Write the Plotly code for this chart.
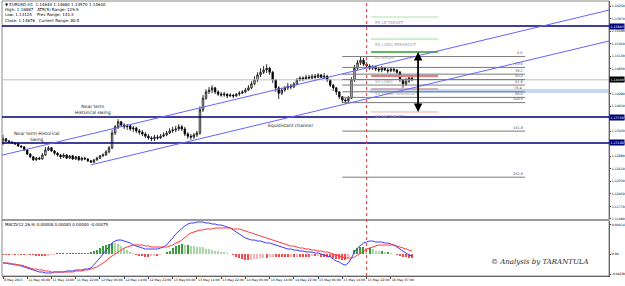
import plotly.graph_objects as go

# ---------------- data ----------------
first_open = 1.1319
closes = [1.1328,1.1323,1.1321,1.1319,1.1317,1.1312,1.1310,1.1303,1.1294,1.1288,
          1.1281,1.1285,1.1283,1.1292,1.1303,1.1308,1.1301,1.1296,1.1292,1.1288,
          1.1292,1.1285,1.1290,1.1283,1.1288,1.1281,1.1285,1.1283,1.1279,1.1276,
          1.1281,1.1285,1.1290,1.1292,1.1299,1.1308,1.1341,1.1355,1.1366,1.1359,
          1.1355,1.1357,1.1350,1.1352,1.1346,1.1343,1.1339,1.1334,1.1330,1.1328,
          1.1332,1.1330,1.1334,1.1337,1.1341,1.1346,1.1348,1.1350,1.1355,1.1350,
          1.1339,1.1334,1.1332,1.1337,1.1341,1.1393,1.1419,1.1433,1.1437,1.1442,
          1.1433,1.1428,1.1426,1.1428,1.1424,1.1426,1.1424,1.1428,1.1430,1.1433,
          1.1437,1.1442,1.1451,1.1460,1.1471,1.1477,1.1482,1.1486,1.1477,1.1460,
          1.1442,1.1430,1.1437,1.1442,1.1446,1.1444,1.1451,1.1460,1.1464,1.1462,
          1.1466,1.1464,1.1468,1.1466,1.1471,1.1466,1.1468,1.1460,1.1448,1.1442,
          1.1433,1.1422,1.1415,1.1413,1.1419,1.1460,1.1486,1.1498,1.1504,1.1495,
          1.1491,1.1486,1.1489,1.1484,1.1482,1.1486,1.1482,1.1480,1.1484,1.1482,
          1.1477,1.1460,1.1451,1.1457,1.1464,1.1460]
highs = [1.1337,1.1330,1.1326,1.1323,1.1321,1.1319,1.1314,1.1312,1.1305,1.1296,
         1.1290,1.1288,1.1288,1.1296,1.1310,1.1312,1.1310,1.1303,1.1299,1.1294,
         1.1296,1.1294,1.1292,1.1292,1.1290,1.1290,1.1288,1.1288,1.1285,1.1281,
         1.1283,1.1288,1.1292,1.1296,1.1303,1.1312,1.1348,1.1359,1.1372,1.1368,
         1.1363,1.1361,1.1359,1.1357,1.1355,1.1350,1.1348,1.1343,1.1339,1.1334,
         1.1337,1.1337,1.1339,1.1343,1.1346,1.1352,1.1355,1.1357,1.1361,1.1359,
         1.1355,1.1343,1.1339,1.1341,1.1346,1.1401,1.1426,1.1439,1.1444,1.1448,
         1.1444,1.1437,1.1433,1.1433,1.1430,1.1430,1.1428,1.1430,1.1435,1.1437,
         1.1442,1.1448,1.1457,1.1468,1.1477,1.1486,1.1491,1.1495,1.1489,1.1480,
         1.1462,1.1446,1.1442,1.1446,1.1453,1.1451,1.1455,1.1464,1.1468,1.1468,
         1.1471,1.1471,1.1473,1.1473,1.1475,1.1473,1.1475,1.1471,1.1462,1.1451,
         1.1444,1.1435,1.1424,1.1419,1.1424,1.1466,1.1493,1.1504,1.1513,1.1509,
         1.1500,1.1495,1.1493,1.1491,1.1489,1.1491,1.1489,1.1486,1.1489,1.1486,
         1.1484,1.1480,1.1462,1.1464,1.1468,1.1468]
lows = [1.1314,1.1321,1.1319,1.1317,1.1314,1.1310,1.1308,1.1301,1.1292,1.1285,
        1.1279,1.1279,1.1281,1.1281,1.1290,1.1301,1.1299,1.1292,1.1288,1.1283,
        1.1285,1.1283,1.1283,1.1281,1.1281,1.1279,1.1279,1.1281,1.1276,1.1274,
        1.1274,1.1279,1.1283,1.1288,1.1290,1.1296,1.1305,1.1337,1.1350,1.1355,
        1.1350,1.1348,1.1346,1.1343,1.1341,1.1337,1.1334,1.1330,1.1326,1.1323,
        1.1323,1.1326,1.1328,1.1332,1.1334,1.1339,1.1341,1.1343,1.1346,1.1346,
        1.1334,1.1328,1.1326,1.1328,1.1332,1.1337,1.1388,1.1415,1.1428,1.1430,
        1.1428,1.1424,1.1422,1.1422,1.1419,1.1422,1.1419,1.1422,1.1424,1.1428,
        1.1430,1.1435,1.1439,1.1448,1.1455,1.1466,1.1473,1.1475,1.1471,1.1453,
        1.1433,1.1417,1.1426,1.1433,1.1437,1.1439,1.1442,1.1448,1.1457,1.1457,
        1.1460,1.1462,1.1462,1.1462,1.1464,1.1464,1.1462,1.1455,1.1444,1.1435,
        1.1426,1.1417,1.1408,1.1406,1.1410,1.1417,1.1455,1.1482,1.1493,1.1491,
        1.1486,1.1482,1.1482,1.1480,1.1477,1.1477,1.1480,1.1475,1.1477,1.1477,
        1.1473,1.1455,1.1442,1.1446,1.1453,1.1457]

# MACD values in points (1e-5)
macd_main_pts = [-126,-126,-140,-140,-154,-154,-168,-182,-196,-210,
                 -224,-238,-252,-252,-266,-266,-266,-252,-252,-252,
                 -252,-238,-238,-238,-224,-224,-224,-210,-210,-196,
                 -154,-112,-56,0,56,112,154,182,196,196,
                 182,168,154,126,112,98,84,70,70,70,
                 70,70,84,98,126,168,224,280,322,364,
                 392,420,434,434,448,448,448,434,434,420,
                 420,406,406,392,378,364,336,308,280,252,
                 224,210,196,196,182,182,168,154,154,140,
                 126,112,98,84,70,70,56,56,42,42,
                 28,28,28,14,14,0,-14,-28,-42,-70,
                 -98,-112,-140,-154,-126,-56,28,84,126,154,
                 168,182,182,168,168,168,154,154,140,126,
                 98,70,42,14,-14,-28]
macd_signal_pts = [-126,-126,-126,-140,-140,-154,-154,-168,-182,-196,
                   -210,-210,-224,-224,-238,-238,-252,-252,-252,-252,
                   -252,-252,-252,-252,-238,-238,-238,-224,-224,-210,
                   -196,-182,-154,-126,-98,-56,-28,0,28,56,
                   84,98,112,126,126,126,126,112,112,98,
                   98,98,98,98,98,112,126,154,168,196,
                   238,266,294,308,322,336,336,350,350,350,
                   364,364,364,364,364,364,350,350,350,336,
                   322,308,294,280,266,252,238,224,210,196,
                   182,168,154,140,126,112,112,98,84,84,
                   70,70,56,56,42,42,28,28,14,0,
                   -14,-28,-42,-56,-56,-56,-42,-14,14,42,
                   70,84,98,112,126,126,126,126,126,126,
                   112,98,84,70,56,42]
macd_hist_pts = [-6,-8,-10,-6,-10,-8,-12,-14,-12,-14,
                 -14,-20,-24,-24,-26,-24,-14,-4,2,4,
                 4,10,12,12,12,12,12,12,14,16,
                 36,60,84,106,128,142,152,150,138,116,
                 82,58,34,4,-12,-24,-34,-36,-36,-26,
                 -24,-24,-14,0,24,48,82,106,128,140,
                 130,130,118,106,104,94,92,72,70,58,
                 48,36,34,24,12,0,-14,-36,-58,-70,
                 -82,-82,-80,-72,-70,-60,-58,-58,-48,-46,
                 -46,-46,-46,-46,-46,-38,-44,-36,-36,-36,
                 -36,-36,-26,-34,-26,-36,-36,-46,-48,-60,
                 -70,-72,-82,-84,-60,0,58,82,94,96,
                 82,82,70,48,36,36,24,24,12,0,
                 -12,-24,-36,-48,-58,-60]

time_tick_bars = [0, 8, 16, 24, 32, 40, 48, 56, 64, 72, 80, 88, 96, 104, 112, 120, 128]
time_tick_labels = ["8 May 2015", "11 May 06:00", "11 May 14:00", "11 May 22:00", "12 May 06:00",
                    "12 May 14:00", "12 May 22:00", "13 May 06:00", "13 May 14:00", "13 May 22:00",
                    "14 May 06:00", "14 May 14:00", "14 May 22:00", "15 May 06:00", "15 May 14:00",
                    "15 May 22:00", "18 May 07:00"]
price_ticks = [1.16250, 1.15970, 1.15690, 1.15410, 1.15130, 1.14850, 1.14570, 1.14290, 1.14010,
               1.13730, 1.13450, 1.13170, 1.12890, 1.12610, 1.12330, 1.12050, 1.11770, 1.11490]
macd_ticks = [0.00414, 0.0, -0.0028]
macd_tick_labels = ["0.00414", "0.00", "-0.00280"]

swing_levels = [1.15803, 1.13769, 1.13188]
pivot_names = ["R5 LB TARGET", "R4 LONG BREAKOUT", "R3 SHORT", "S3 LONG", "S4 SHORT BREAKOUT", "S5 SB TARGET"]
pivot_values = [1.16004, 1.15512, 1.15222, 1.14685, 1.14395, 1.13881]
pivot_colors = ["#a8e4a8", "#98e098", "#2e9e2e", "#f07878", "#c898a8", "#f4a8a8"]
pivot_widths = [1, 1, 1.6, 2, 1.6, 1]
pivot_start_bar, pivot_end_bar = 121.5, 143.6
zone_top, zone_bottom, zone_start_bar = 1.14395, 1.14306, 121

fib_high, fib_low = 1.1512, 1.1409
fib_levels = [0.0, 23.6, 38.2, 50.0, 61.8, 76.4, 88.6, 100.0, 161.8, 261.8]
fib_start_bar, fib_end_bar = 112, 172.3

channel_anchor1 = (29, 1.1270)
channel_anchor2 = (113, 1.1406)
channel_width = 0.0069

arrow_bar = 137
marker_bar = 120

X_MIN, X_MAX = -0.33, 200.0
Y_MIN, Y_MAX = 1.11489, 1.16362
M_MIN, M_MAX = -0.00308, 0.00462

# ---------------- figure ----------------
bars = list(range(len(closes)))
opens = [first_open] + closes[:-1]
macd_main = [v * 1e-5 for v in macd_main_pts]
macd_signal = [v * 1e-5 for v in macd_signal_pts]
macd_hist = [v * 1e-5 for v in macd_hist_pts]

fig = go.Figure()
fig.add_trace(go.Candlestick(
    x=bars, open=opens, high=highs, low=lows, close=closes,
    increasing=dict(line=dict(color="black", width=0.8), fillcolor="white"),
    decreasing=dict(line=dict(color="black", width=0.8), fillcolor="black"),
    whiskerwidth=0, xaxis="x", yaxis="y", showlegend=False, hoverinfo="skip"))

hist_colors = []
for k, v in enumerate(macd_hist_pts):
    prev = macd_hist_pts[k - 1] if k > 0 else v
    if v >= 0:
        hist_colors.append("#3c9c3c" if v >= prev else "#a6d8a6")
    else:
        hist_colors.append("#f04a4a" if v <= prev else "#f8b4b4")
fig.add_trace(go.Bar(x=bars, y=macd_hist, marker=dict(color=hist_colors, line=dict(width=0)),
                     width=0.4, xaxis="x", yaxis="y2", showlegend=False, hoverinfo="skip"))
fig.add_trace(go.Scatter(x=bars, y=macd_main, mode="lines", line=dict(color="#3a3aff", width=1),
                         xaxis="x", yaxis="y2", showlegend=False, hoverinfo="skip"))
fig.add_trace(go.Scatter(x=bars, y=macd_signal, mode="lines", line=dict(color="#ff3a3a", width=1),
                         xaxis="x", yaxis="y2", showlegend=False, hoverinfo="skip"))

shapes = []
shapes.append(dict(type="rect", xref="paper", yref="paper", x0=0, x1=1, y0=0.2, y1=0.2073,
                   fillcolor="#9a9a9a", line=dict(width=0), layer="above"))
shapes.append(dict(type="rect", xref="paper", yref="paper", x0=0, x1=1, y0=0, y1=1,
                   line=dict(color="#8a8a8a", width=1)))
shapes.append(dict(type="rect", xref="x", yref="y", x0=zone_start_bar, x1=X_MAX, y0=zone_bottom, y1=zone_top,
                   fillcolor="#c6d8f2", line=dict(width=0), layer="below"))
shapes.append(dict(type="line", xref="x", yref="y", x0=X_MIN, x1=X_MAX, y0=closes[-1], y1=closes[-1],
                   line=dict(color="#b8c0cc", width=1)))
fib_prices = [fib_high - r / 100.0 * (fib_high - fib_low) for r in fib_levels]
for p in fib_prices:
    shapes.append(dict(type="line", xref="x", yref="y", x0=fib_start_bar, x1=fib_end_bar, y0=p, y1=p,
                       line=dict(color="#7a7a7a", width=1)))
for v, c, w in zip(pivot_values, pivot_colors, pivot_widths):
    shapes.append(dict(type="line", xref="x", yref="y", x0=pivot_start_bar, x1=pivot_end_bar, y0=v, y1=v,
                       line=dict(color=c, width=w)))
for v in swing_levels:
    shapes.append(dict(type="line", xref="x", yref="y", x0=X_MIN, x1=X_MAX, y0=v, y1=v,
                       line=dict(color="#00007a", width=1.5)))
(i1, p1), (i2, p2) = channel_anchor1, channel_anchor2
slope = (p2 - p1) / (i2 - i1)
shapes.append(dict(type="line", xref="x", yref="y", x0=i1, y0=p1, x1=X_MAX, y1=p1 + slope * (X_MAX - i1),
                   line=dict(color="#6464ff", width=1)))
shapes.append(dict(type="line", xref="x", yref="y", x0=X_MIN, y0=p1 + slope * (X_MIN - i1) + channel_width,
                   x1=X_MAX, y1=p1 + slope * (X_MAX - i1) + channel_width,
                   line=dict(color="#6464ff", width=1)))
shapes.append(dict(type="line", xref="x", yref="paper", x0=marker_bar, x1=marker_bar, y0=0, y1=1,
                   line=dict(color="#ff3030", width=1, dash="dot")))

ann = []
small = dict(family="DejaVu Sans", size=4, color="black")
last_o, last_h, last_l, last_c = opens[-1], highs[-1], lows[-1], closes[-1]
header = [f"▼ EURUSD,H1  {last_o:.5f} {last_h:.5f} {last_l:.5f} {last_c:.5f}",
          "High: 1.16887   ATR(5) Range: 129.9",
          "Low: 1.13124    Prev Range: 143.3",
          "Close: 1.14676   Current Range: 80.5"]
for k, t in enumerate(header):
    ann.append(dict(xref="paper", yref="paper", x=0.002, y=(276 - (5 + 5 * k)) / 275.0, text=t,
                    showarrow=False, xanchor="left", yanchor="middle", font=small))
ann.append(dict(xref="paper", yref="paper", x=0.002, y=(276 - 224) / 275.0,
                text="MACD(12,26,9) 0.00008 0.00083 0.00000 -0.00075",
                showarrow=False, xanchor="left", yanchor="middle", font=small))
note_font = dict(family="DejaVu Sans", size=4.5, color="#1a1a1a")
ann.append(dict(x=29.7, y=1.13937, text="Near term<br>Historical swing", showarrow=False,
                xanchor="center", yanchor="middle", font=note_font))
ann.append(dict(x=11.1, y=1.13333, text="Near term Historical<br>Swing", showarrow=False,
                xanchor="center", yanchor="middle", font=note_font))
ann.append(dict(x=95, y=1.13568, text="Equidistant channel", showarrow=False,
                xanchor="center", yanchor="middle", font=note_font))
for n, v in zip(pivot_names, pivot_values):
    ann.append(dict(x=pivot_start_bar + 0.5, y=v, text=n, showarrow=False, xanchor="left", yanchor="top",
                    yshift=-0.5, font=dict(family="DejaVu Sans", size=4, color="#9a9a9a")))
for r, p in zip(fib_levels, fib_prices):
    ann.append(dict(x=fib_end_bar, y=p, text=f"{r:.1f}", showarrow=False, xanchor="right", yanchor="bottom",
                    yshift=-0.5, font=dict(family="DejaVu Sans", size=3.5, color="#505050")))
for a, b in ((pivot_values[2], pivot_values[5]), (pivot_values[5], pivot_values[2])):
    ann.append(dict(x=arrow_bar, y=a, ax=arrow_bar, ay=b, xref="x", yref="y", axref="x", ayref="y",
                    text="", showarrow=True, arrowhead=2, arrowsize=1.2, arrowwidth=1.4, arrowcolor="black"))
box_font = dict(family="DejaVu Sans", size=3.2, color="white")
for v in swing_levels:
    ann.append(dict(xref="paper", yref="y", x=1.0, y=v, text=f"{v:.5f}", showarrow=False, xanchor="left",
                    yanchor="middle", bgcolor="#00007a", borderpad=0.5, font=box_font))
ann.append(dict(xref="paper", yref="y", x=1.0, y=last_c, text=f"{last_c:.5f}", showarrow=False, xanchor="left",
                yanchor="middle", bgcolor="black", borderpad=0.5, font=box_font))
ann.append(dict(xref="paper", yref="paper", x=0.886, y=0.05, text="<i>© Analysis by TARANTULA</i>",
                showarrow=False, xanchor="center", yanchor="middle",
                font=dict(family="DejaVu Serif", size=7, color="#222222")))

axis_font = dict(family="DejaVu Sans", size=3.2, color="black")
fig.update_layout(
    width=625, height=286, margin=dict(l=2, r=16, t=1, b=10),
    paper_bgcolor="white", plot_bgcolor="white", showlegend=False, bargap=0,
    font=dict(family="DejaVu Sans", size=4, color="black"),
    xaxis=dict(domain=[0, 1], anchor="y2", range=[X_MIN, X_MAX], tickvals=time_tick_bars,
               ticktext=time_tick_labels, ticklabelposition="outside right", tickangle=0,
               ticks="outside", ticklen=2, tickcolor="#404040", tickfont=axis_font,
               showgrid=False, zeroline=False, showline=True, linecolor="#404040",
               rangeslider=dict(visible=False), automargin=False),
    yaxis=dict(domain=[0.2073, 1], anchor="x", range=[Y_MIN, Y_MAX], side="right", tickvals=price_ticks,
               ticktext=[f"{v:.5f}" for v in price_ticks], ticks="outside", ticklen=1, tickcolor="#404040",
               tickfont=axis_font, showgrid=False, zeroline=False, showline=True,
               linecolor="#404040", automargin=False),
    yaxis2=dict(domain=[0, 0.2], anchor="x", range=[M_MIN, M_MAX], side="right", tickvals=macd_ticks,
                ticktext=macd_tick_labels, ticks="outside", ticklen=1, tickcolor="#404040",
                tickfont=axis_font, showgrid=False, zeroline=False, showline=True,
                linecolor="#404040", automargin=False),
    shapes=shapes, annotations=ann,
)

fig.write_html("out.html")
